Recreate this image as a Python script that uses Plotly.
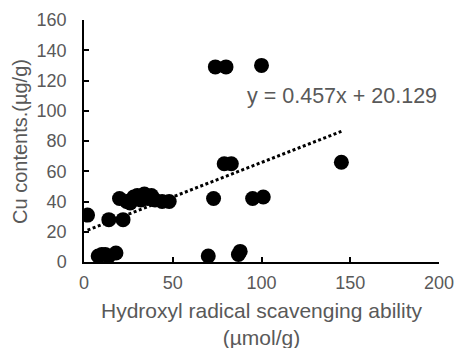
import plotly.graph_objects as go

# Hydroxyl radical scavenging ability (umol/g)
x_vals = [2, 8, 10, 12, 14, 18, 14, 22,
          20, 24, 26, 28, 30, 32, 34, 36, 38, 40, 44, 48,
          70, 73, 87, 88, 79, 83, 95, 101, 145, 74, 80, 100]
# Cu contents (ug/g)
y_vals = [31, 4, 5, 5, 4, 6, 28, 28,
          42, 40, 39, 43, 44, 41, 45, 42, 44, 41, 40, 40,
          4, 42, 5, 7, 65, 65, 42, 43, 66, 129, 129, 130]

slope = 0.457
intercept = 20.129
eq_text = "y = 0.457x + 20.129"

x_ticks = [0, 50, 100, 150, 200]
y_ticks = [0, 20, 40, 60, 80, 100, 120, 140, 160]

grey = "#595959"
font = "Liberation Sans, Arial, sans-serif"

fig = go.Figure()
fig.add_trace(go.Scatter(
    x=x_vals, y=y_vals, mode="markers",
    marker=dict(color="black", size=15, line=dict(width=0)),
    showlegend=False))

x_line = [min(x_vals), max(x_vals)]
y_line = [slope * v + intercept for v in x_line]
fig.add_trace(go.Scatter(
    x=x_line, y=y_line, mode="lines",
    line=dict(color="black", width=3, dash="3px,2.5px"),
    showlegend=False))

fig.add_annotation(x=1.0, y=0.684, xref="paper", yref="paper",
                   text=eq_text, showarrow=False, xanchor="right", yanchor="middle",
                   font=dict(size=21.5, color=grey, family=font))
fig.add_annotation(x=0.5, y=-0.143, xref="paper", yref="paper",
                   text="Hydroxyl radical scavenging ability<br>(µmol/g)", showarrow=False,
                   xanchor="center", yanchor="top", align="center",
                   font=dict(size=21, color=grey, family=font))
fig.add_annotation(x=-0.1803, y=0.5, xref="paper", yref="paper",
                   text="Cu contents.(µg/g)", showarrow=False, textangle=-90,
                   xanchor="center", yanchor="middle",
                   font=dict(size=20, color=grey, family=font))

fig.update_layout(
    width=458, height=348,
    margin=dict(l=84, r=19, t=20, b=86),
    paper_bgcolor="white", plot_bgcolor="white",
    font=dict(family=font, color=grey, size=18),
    xaxis=dict(range=[0, 200], tickvals=x_ticks, ticks="inside", ticklen=5,
               tickwidth=1.5, tickcolor="black", showline=True, linecolor="black",
               linewidth=1.5, showgrid=False, zeroline=False, automargin=False,
               ticklabelstandoff=4),
    yaxis=dict(range=[0, 160], tickvals=y_ticks, ticks="inside", ticklen=5,
               tickwidth=1.5, tickcolor="black", showline=True, linecolor="black",
               linewidth=1.5, showgrid=False, zeroline=False, automargin=False,
               ticklabelstandoff=12),
)

fig.write_html("out.html", config={"displayModeBar": False},
               post_script="document.body.style.margin='0';document.body.style.overflow='hidden';")
